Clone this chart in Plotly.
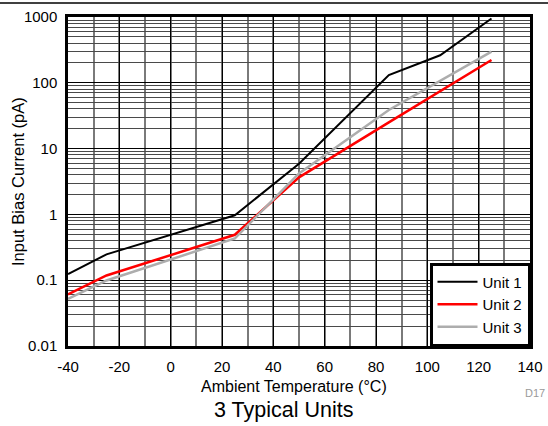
import plotly.graph_objects as go

# Data
temperature_c = [-40, -25, 25, 50, 85, 105, 125]
unit1_pa = [0.124, 0.247, 0.97, 5.9, 131, 262, 950]
unit2_pa = [0.061, 0.118, 0.49, 3.66, 25, 74, 222]
unit3_pa = [0.052, 0.099, 0.43, 4.2, 38.6, 107, 297]

series_names = ["Unit 1", "Unit 2", "Unit 3"]
series_values = [unit1_pa, unit2_pa, unit3_pa]
series_colors = ["#000000", "#FF0000", "#ADADAD"]
series_widths = [2, 2.5, 2.5]

x_tick_vals = [-40, -20, 0, 20, 40, 60, 80, 100, 120, 140]
x_tick_text = ["-40", "-20", "0", "20", "40", "60", "80", "100", "120", "140"]
y_tick_vals = [0.01, 0.1, 1, 10, 100, 1000]
y_tick_text = ["0.01", "0.1", "1", "10", "100", "1000"]

FONT = "Liberation Sans, Arial, sans-serif"

fig = go.Figure()
for name, vals, col, w in zip(series_names, series_values, series_colors, series_widths):
    fig.add_trace(go.Scatter(x=temperature_c, y=vals, mode="lines", name=name,
                             line=dict(color=col, width=w)))

W, H = 548, 426
L, R, T, B = 68, 18, 17, 80
pw, ph = W - L - R, H - T - B

def px_x(px):
    return (px - L) / pw

def px_y(py):
    return (H - B - py) / ph

fig.update_layout(
    width=W, height=H,
    margin=dict(l=L, r=R, t=T, b=B, autoexpand=False),
    paper_bgcolor="white", plot_bgcolor="white",
    font=dict(family=FONT, color="black", size=15),
    showlegend=True,
    legend=dict(x=1, y=0, xanchor="right", yanchor="bottom",
                bordercolor="black", borderwidth=2.5, bgcolor="white",
                font=dict(size=15, family=FONT), traceorder="normal",
                tracegroupgap=0, itemwidth=40),
    xaxis=dict(range=[-40, 140], tickvals=x_tick_vals, ticktext=x_tick_text, showline=True,
               linecolor="black", linewidth=2.5, mirror=True,
               showgrid=True, gridcolor="black", gridwidth=1,
               ticks="", ticklabelstandoff=5, zeroline=False,
               tickfont=dict(size=15),
               minor=dict(dtick=10, tick0=0, showgrid=True, gridcolor="#7a7a7a", gridwidth=1.5)),
    yaxis=dict(type="log", range=[-2, 3], tickvals=y_tick_vals, ticktext=y_tick_text,
               showline=True, linecolor="black", linewidth=2.5, mirror=True,
               showgrid=True, gridcolor="black", gridwidth=1,
               ticks="", ticklabelstandoff=5, zeroline=False,
               tickfont=dict(size=15),
               minor=dict(dtick="D1", showgrid=True, gridcolor="#4a4a4a", gridwidth=1)),
    annotations=[
        dict(text="Ambient Temperature (°C)", xref="paper", yref="paper",
             x=px_x(294), y=px_y(386), xanchor="center", yanchor="middle",
             showarrow=False, font=dict(size=16, family=FONT)),
        dict(text="Input Bias Current (pA)", xref="paper", yref="paper",
             x=px_x(18), y=px_y(182), xanchor="center", yanchor="middle",
             textangle=-90, showarrow=False, font=dict(size=16.5, family=FONT)),
        dict(text="3 Typical Units", xref="paper", yref="paper",
             x=px_x(283), y=px_y(410), xanchor="center", yanchor="middle",
             showarrow=False, font=dict(size=21.5, family=FONT)),
        dict(text="D17", xref="paper", yref="paper",
             x=px_x(547), y=px_y(393), xanchor="right", yanchor="middle",
             showarrow=False, font=dict(size=11, family=FONT, color="#9a9a9a")),
    ],
    shapes=[
        dict(type="line", xref="paper", yref="paper",
             x0=px_x(0), x1=px_x(W), y0=px_y(3), y1=px_y(3),
             line=dict(color="black", width=1.5)),
    ],
)

fig.write_html("out.html", config={"displayModeBar": False},
               post_script="document.body.style.margin='0px';document.body.style.overflow='hidden';")
